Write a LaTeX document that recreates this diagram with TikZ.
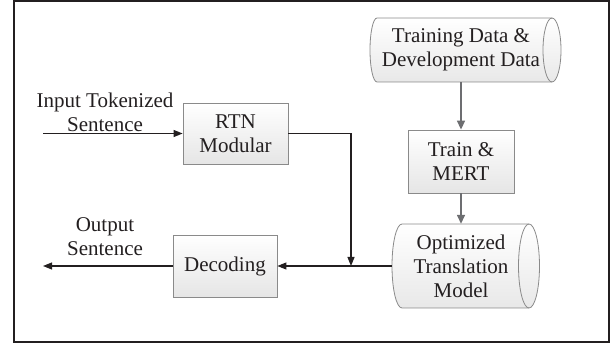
\documentclass[tikz,border=0pt]{standalone}
\usepackage{fontspec}
\setmainfont{Liberation Serif}
\usetikzlibrary{arrows.meta,shadows}
\definecolor{frm}{HTML}{231F20}
\definecolor{edgec}{HTML}{8A8A8A}
\definecolor{garr}{HTML}{6D6E71}
\begin{document}
\begin{tikzpicture}[x=1pt,y=-1pt,
  txt/.style={font=\fontsize{21}{24}\selectfont, align=center, inner sep=0pt, text=frm},
  boxnode/.style={txt, draw=edgec, line width=0.8pt, top color=white, bottom color=gray!20,
    drop shadow={shadow xshift=1.2pt, shadow yshift=-1.2pt, fill=gray!45, opacity=0.6}},
  cylfill/.style={draw=edgec, line width=0.8pt, top color=white, bottom color=gray!18},
  cylline/.style={draw=edgec, line width=0.8pt},
  blk/.style={draw=frm, line width=1.1pt, -{Triangle[length=9pt,width=7pt]}},
  gry/.style={draw=garr, line width=1.5pt, -{Triangle[length=9pt,width=8pt]}}]
\useasboundingbox (0,0) rectangle (613,347);
\draw[frm, line width=2pt] (14,1.5) rectangle (609,342);

% cylinders
\draw[cylfill] (377,18) -- (552,18) arc[start angle=90,end angle=-90,x radius=9pt,y radius=32pt]
  -- (377,82) arc[start angle=270,end angle=90,x radius=7pt,y radius=32pt] -- cycle;
\draw[cylline] (552,18) arc[start angle=90,end angle=270,x radius=9pt,y radius=32pt];
\draw[cylfill] (402,224) -- (529,224) arc[start angle=90,end angle=-90,x radius=10.5pt,y radius=42pt]
  -- (402,308) arc[start angle=270,end angle=90,x radius=10pt,y radius=42pt] -- cycle;
\draw[cylline] (529,224) arc[start angle=90,end angle=270,x radius=10.5pt,y radius=42pt];

\node[txt, minimum width=182pt, minimum height=64pt] (trd) at (461,50) {Training Data \&\\Development Data};
\node[txt, minimum width=138pt, minimum height=84pt] (opt) at (461,266) {Optimized\\Translation\\Model};

\node[boxnode, minimum width=105pt, minimum height=61pt] (rtn) at (235.5,133.5) {RTN\\Modular};
\node[boxnode, minimum width=104pt, minimum height=62pt] (dec) at (225,266) {Decoding};
\node[boxnode, minimum width=106pt, minimum height=63pt] (trn) at (461,161.5) {Train \&\\MERT};

\node[txt] (inlab) at (105,112) {Input Tokenized\\Sentence};
\node[txt] (outlab) at (105,237) {Output\\Sentence};

\coordinate (inS) at (43,133.5);
\coordinate (outE) at (43,266);
\coordinate (jn) at (351,266);

\draw[blk] (inS) -- (rtn.west);
\draw[blk] (dec.west) -- (outE);
\draw[blk] (rtn.east) -| (jn);
\draw[blk] (opt.west) -- (dec.east);
\draw[gry] (trd.south) -- (trn.north);
\draw[gry] (trn.south) -- (opt.north);
\end{tikzpicture}
\end{document}
